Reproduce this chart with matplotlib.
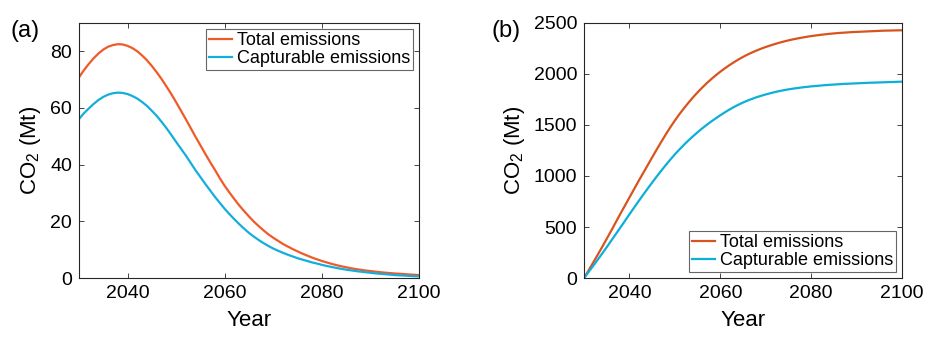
import numpy as np
import matplotlib
matplotlib.use("Agg")
import matplotlib.pyplot as plt

plt.rcParams['font.family'] = ['Liberation Sans', 'DejaVu Sans']
plt.rcParams['mathtext.fontset'] = 'custom'
plt.rcParams['mathtext.rm'] = 'Liberation Sans'

# years 2030..2100
years = np.arange(2030, 2101)

# (a) annual emissions, Mt CO2
total_annual = [70.8, 73.3, 75.5, 77.5, 79.2, 80.6, 81.6, 82.2, 82.5, 82.4,
                81.9, 81.1, 80.0, 78.5, 76.8, 74.8, 72.6, 70.2, 67.6, 64.9,
                62.0, 59.0, 56.0, 52.9, 49.8, 46.8, 43.8, 40.9, 38.1, 35.2,
                32.5, 30.1, 27.8, 25.6, 23.6, 21.7, 19.9, 18.3, 16.8, 15.4,
                14.2, 13.1, 12.0, 11.1, 10.2, 9.4, 8.6, 7.9, 7.2, 6.6,
                6.0, 5.5, 5.0, 4.55, 4.15, 3.8, 3.45, 3.15, 2.9, 2.65,
                2.45, 2.25, 2.05, 1.9, 1.75, 1.6, 1.5, 1.4, 1.25, 1.15,
                1.05]
capt_annual = [56.1, 58.1, 59.8, 61.4, 62.8, 63.9, 64.7, 65.2, 65.4, 65.3,
               64.9, 64.2, 63.3, 62.1, 60.7, 59.0, 57.2, 55.1, 52.9, 50.5,
               48.0, 45.6, 43.2, 40.6, 38.0, 35.6, 33.2, 30.9, 28.6, 26.5,
               24.4, 22.5, 20.7, 19.0, 17.4, 15.9, 14.6, 13.4, 12.3, 11.3,
               10.4, 9.6, 8.9, 8.2, 7.6, 7.0, 6.5, 6.0, 5.5, 5.1,
               4.65, 4.25, 3.9, 3.55, 3.25, 2.95, 2.7, 2.45, 2.25, 2.05,
               1.85, 1.65, 1.5, 1.35, 1.2, 1.05, 0.95, 0.85, 0.75, 0.65,
               0.6]

# (b) cumulative emissions, Mt CO2
total_cum = [0, 75, 150, 227, 305, 385, 465, 548, 630, 710,
             790, 870, 950, 1028, 1105, 1183, 1260, 1335, 1408, 1478,
             1544, 1606, 1664, 1719, 1771, 1820, 1866, 1909, 1949, 1987,
             2022, 2055, 2086, 2115, 2142, 2167, 2190, 2211, 2230, 2248,
             2264, 2279, 2293, 2306, 2318, 2329, 2339, 2348, 2356, 2364,
             2371, 2377, 2383, 2388, 2393, 2397, 2401, 2404, 2407, 2410,
             2412, 2414, 2416, 2418, 2420, 2422, 2424, 2425, 2426, 2427,
             2428]
capt_cum = [0, 59, 118, 179, 240, 303, 367, 431, 495, 560,
            625, 689, 752, 815, 876, 936, 995, 1052, 1108, 1161,
            1212, 1260, 1306, 1349, 1390, 1429, 1466, 1501, 1534, 1565,
            1595, 1624, 1651, 1676, 1699, 1720, 1739, 1756, 1772, 1786,
            1799, 1811, 1822, 1832, 1841, 1849, 1856, 1862, 1868, 1873,
            1878, 1882, 1886, 1890, 1893, 1896, 1899, 1902, 1904, 1906,
            1908, 1910, 1912, 1914, 1915, 1917, 1918, 1920, 1921, 1923,
            1924]

labels = ['Total emissions', 'Capturable emissions']

fig = plt.figure(figsize=(9.25, 3.37), dpi=100)
ax1 = fig.add_axes([0.0854, 0.175, 0.3676, 0.757])
ax2 = fig.add_axes([0.6314, 0.175, 0.3438, 0.757])


def style(ax):
    for s in ax.spines.values():
        s.set_color('#262626')
        s.set_linewidth(0.8)
    ax.tick_params(direction='in', length=3.5, width=0.6, color='#262626',
                   labelsize=14, top=True, right=True, pad=5)
    ax.set_xlim(2030, 2100)
    ax.set_xticks([2040, 2060, 2080, 2100])
    ax.set_xlabel('Year', fontsize=16, labelpad=6)
    ax.set_ylabel('CO$_2$ (Mt)', fontsize=16, labelpad=5)


leg_kw = dict(fontsize=13, frameon=True, fancybox=False, edgecolor='#404040',
              handlelength=1.3, handletextpad=0.25, borderpad=0.15,
              labelspacing=0.05, borderaxespad=0.35)

ax1.plot(years, total_annual, color='#F05A28', lw=1.6, label=labels[0])
ax1.plot(years, capt_annual, color='#14AEDD', lw=1.6, label=labels[1])
style(ax1)
ax1.set_ylim(0, 90)
ax1.set_yticks([0, 20, 40, 60, 80])
ax1.legend(loc='upper right', **leg_kw).get_frame().set_linewidth(0.8)
fig.text(0.011, 0.89, '(a)', fontsize=17)

ax2.plot(years, total_cum, color='#D9531E', lw=1.6, label=labels[0])
ax2.plot(years, capt_cum, color='#0CAFDA', lw=1.6, label=labels[1])
style(ax2)
ax2.set_ylim(0, 2500)
ax2.set_yticks([0, 500, 1000, 1500, 2000, 2500])
ax2.legend(loc='lower right', **leg_kw).get_frame().set_linewidth(0.8)
fig.text(0.531, 0.89, '(b)', fontsize=17)

fig.savefig('out.png', dpi=100)
